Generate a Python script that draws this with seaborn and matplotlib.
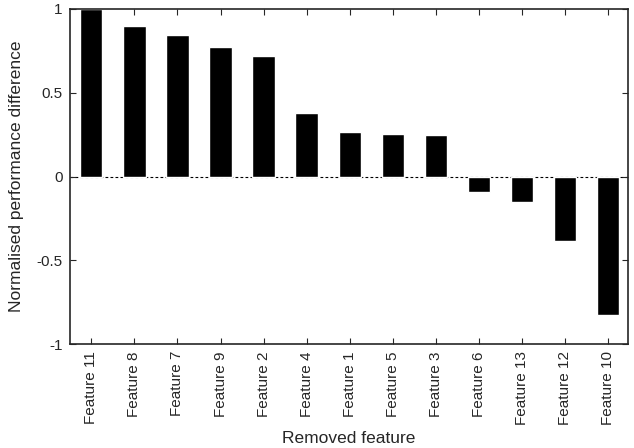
import matplotlib
matplotlib.use("Agg")
import matplotlib.pyplot as plt
import seaborn as sns
import pandas as pd

features = ["Feature 11", "Feature 8", "Feature 7", "Feature 9", "Feature 2",
            "Feature 4", "Feature 1", "Feature 5", "Feature 3", "Feature 6",
            "Feature 13", "Feature 12", "Feature 10"]
values = [1.0, 0.90, 0.845, 0.77, 0.72, 0.38, 0.265, 0.255, 0.245,
          -0.095, -0.155, -0.383, -0.826]

df = pd.DataFrame({"feature": features, "diff": values})

sns.set_style("ticks")
plt.rcParams["font.family"] = ["Liberation Sans", "DejaVu Sans"]

fig, ax = plt.subplots(figsize=(6.34, 4.48), dpi=100)
sns.barplot(data=df, x="feature", y="diff", color="black", width=0.52,
            saturation=1, ax=ax)
ax.axhline(0, color="black", lw=0.8, ls=(0, (2.5, 2)), zorder=0)

ax.set_ylim(-1, 1)
ax.set_xlim(-0.5, 12.45)
ax.set_yticks([-1, -0.5, 0, 0.5, 1])
ax.set_yticklabels(["-1", "-0.5", "0", "0.5", "1"])
ax.tick_params(axis="both", direction="in", top=True, right=True,
               labelsize=11, length=4, width=0.8, pad=5)
ax.tick_params(axis="x", labelrotation=90)
for s in ax.spines.values():
    s.set_visible(True)
    s.set_linewidth(1.2)
ax.set_xlabel("Removed feature", fontsize=12.5, labelpad=4)
ax.set_ylabel("Normalised performance difference", fontsize=12.5, labelpad=9)

fig.subplots_adjust(left=0.11, right=0.99, top=0.98, bottom=0.232)
fig.savefig("out.png", dpi=100)
